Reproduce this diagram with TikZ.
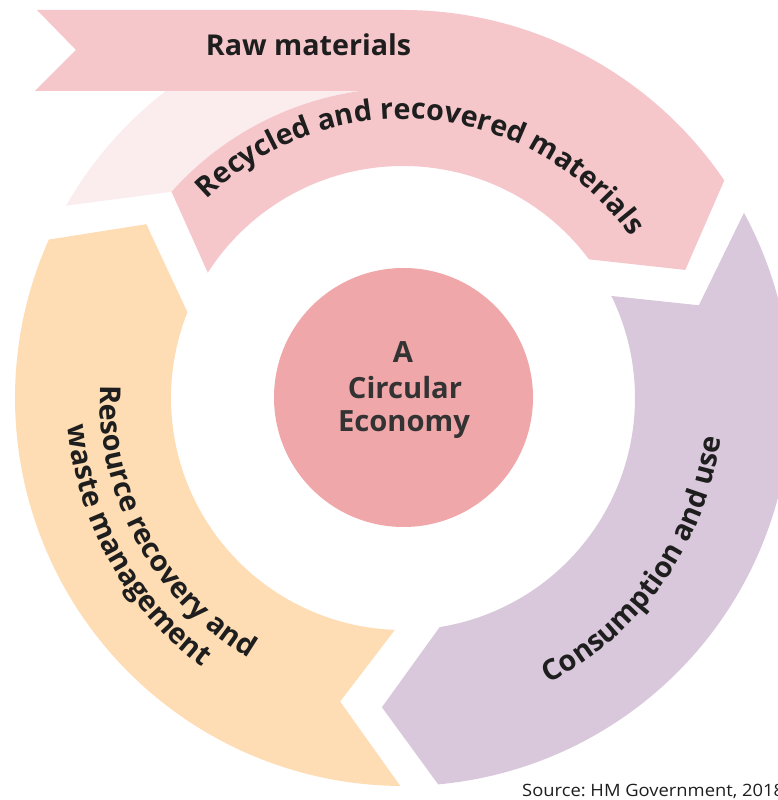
\documentclass[tikz,border=0pt]{standalone}
\usepackage{fontspec}
\setmainfont{Open Sans}
\usetikzlibrary{decorations.text}
\definecolor{pinkband}{HTML}{F5C7CB}
\definecolor{pinkfade}{HTML}{FBEDEE}
\definecolor{orangeband}{HTML}{FEDCB4}
\definecolor{purpleband}{HTML}{D9C8DB}
\definecolor{corepink}{HTML}{F0A7AA}
\definecolor{textdark}{HTML}{1E1E1E}
\definecolor{coretext}{HTML}{333333}
\newcommand\bandtxt{\fontsize{28.7}{28.7}\selectfont\bfseries\color{textdark}}
\tikzset{
  bandlabel/.style={decorate, decoration={text along path, text align=center}},
  coretextstyle/.style={anchor=base, inner sep=0pt, text=coretext, font=\fontsize{29.2}{29.2}\selectfont\bfseries},
}
\begin{document}
\begin{tikzpicture}[x=1pt,y=1pt]
\clip (0,0) rectangle (778,800);
\coordinate (C) at (403,402);
\begin{scope}[shift={(403,402)}]
  % orange: resource recovery
  \fill[orangeband] (155.9:388pt) arc[start angle=155.9, end angle=269.6, radius=388pt]
    -- (258.3:310pt) -- (268.0:232pt) arc[start angle=268.0, end angle=158.3, radius=232pt]
    -- (145.9:310pt) -- cycle;
  % faded outer part of pink tail
  \fill[pinkfade] (150.3:388pt) arc[start angle=150.3, end angle=90, radius=388pt]
    -- (90:310pt) arc[start angle=90, end angle=138.3, radius=310pt] -- cycle;
  % pink: recycled
  \fill[pinkband] (90:388pt) arc[start angle=90, end angle=34.1, radius=388pt]
    -- (24.4:310pt) -- (36.7:232pt) arc[start angle=36.7, end angle=147.3, radius=232pt]
    -- (138.3:310pt) arc[start angle=138.3, end angle=90, radius=310pt] -- cycle;
  % purple: consumption
  \fill[purpleband] (28.5:388pt) arc[start angle=28.5, end angle=-84.8, radius=388pt]
    -- (-93.9:310pt) -- (-80.9:232pt) arc[start angle=-80.9, end angle=26.1, radius=232pt]
    -- (17.4:310pt) -- cycle;
\end{scope}
% raw materials ribbon
\fill[pinkband] (37,790) -- (403,790) -- (403,709) -- (35,709) -- (76,750) -- cycle;
\node[anchor=base, inner sep=0pt, font=\bandtxt] (raw) at (308.5,744) {Raw materials};
% curved labels
\begin{scope}[shift={(403,402)}]
  \path[bandlabel, decoration={text={|\bandtxt|Recycled and recovered materials}}]
    (145:279pt) arc[start angle=145, end angle=25, radius=279pt];
  \path[bandlabel, decoration={text={|\bandtxt|Consumption and use}}]
    (-80:320pt) arc[start angle=-80, end angle=10, radius=320pt];
  \path[bandlabel, decoration={text={|\bandtxt|Resource recovery and}}]
    (158.5:303pt) arc[start angle=158.5, end angle=258.5, radius=303pt];
  \path[bandlabel, decoration={text={|\bandtxt|waste management}}]
    (159:336pt) arc[start angle=159, end angle=259, radius=336pt];
\end{scope}
% core
\node[circle, fill=corepink, minimum size=259pt, inner sep=0pt] (core) at (403.5,402.5) {};
\node[coretextstyle] (coreA) at (403,437) {A};
\node[coretextstyle] (coreB) at (405,401) {Circular};
\node[coretextstyle] (coreC) at (404,368) {Economy};
% source
\node[anchor=base west, inner sep=0pt, text=textdark, font=\fontsize{17}{17}\selectfont\frenchspacing] (src) at (522,3) {\scalebox{1.08}[1]{Source: HM Government, 2018}};
\end{tikzpicture}
\end{document}
